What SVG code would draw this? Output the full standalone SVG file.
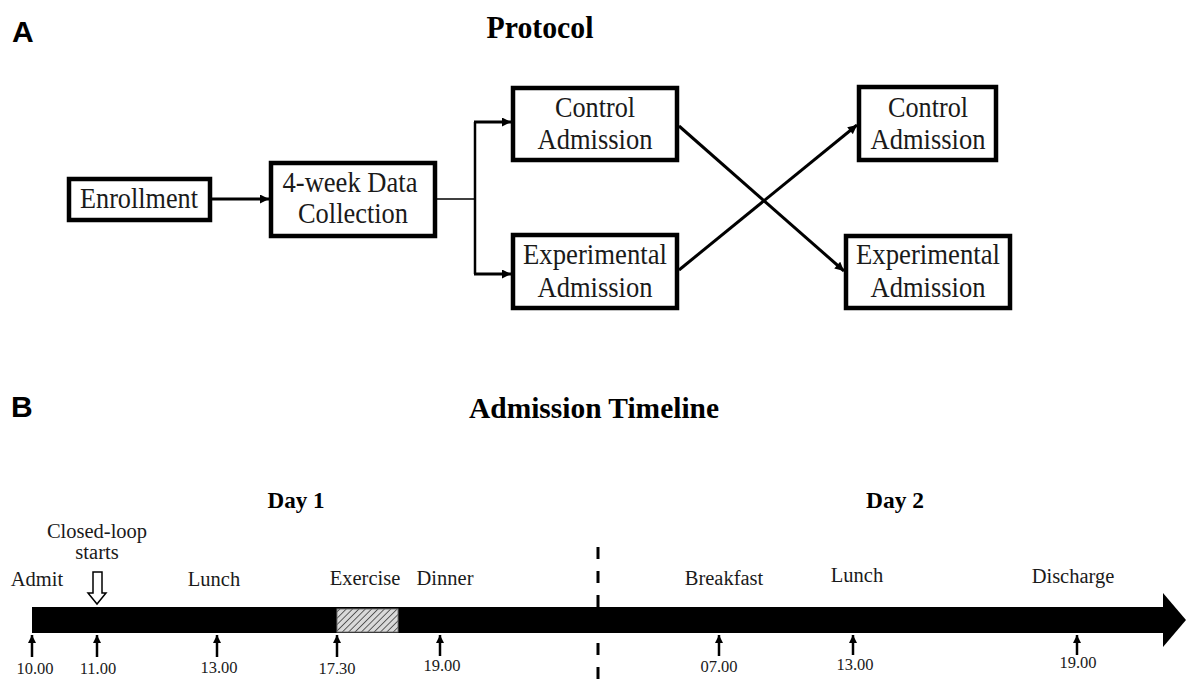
<svg xmlns="http://www.w3.org/2000/svg" width="1186" height="691" viewBox="0 0 1186 691">
<style>
.box{fill:#fff;stroke:#000;stroke-width:4.5}
.bt{font-family:"Liberation Serif","Times New Roman",serif;font-size:28.5px;fill:#1a1a1a;text-anchor:middle}
.lbl{font-family:"Liberation Serif","Times New Roman",serif;font-size:20.5px;fill:#1a1a1a;text-anchor:middle}
.num{font-family:"Liberation Serif","Times New Roman",serif;font-size:16.5px;fill:#1a1a1a;text-anchor:middle}
.title{font-family:"Liberation Serif","Times New Roman",serif;font-weight:bold;fill:#000;text-anchor:middle}
.panel{font-family:"Liberation Sans",Arial,sans-serif;font-weight:bold;font-size:30px;fill:#000}
.conn{fill:none;stroke:#000;stroke-width:3}
.thin{fill:none;stroke:#000;stroke-width:1.6}
.tick{fill:none;stroke:#000;stroke-width:2.5}
</style>
<defs>
<marker id="ah" viewBox="0 0 10 10" refX="10" refY="5" markerWidth="10" markerHeight="9" markerUnits="userSpaceOnUse" orient="auto">
<path d="M0,0 L10,5 L0,10 z" fill="#000"/>
</marker>
<marker id="ahs" viewBox="0 0 10 10" refX="10" refY="5" markerWidth="9" markerHeight="8" markerUnits="userSpaceOnUse" orient="auto">
<path d="M0,0 L10,5 L0,10 z" fill="#000"/>
</marker>
<pattern id="hatch" width="4.5" height="4.5" patternUnits="userSpaceOnUse" patternTransform="rotate(45)">
<rect width="4.5" height="4.5" fill="#d9d9d9"/>
<line x1="0" y1="0" x2="0" y2="4.5" stroke="#333" stroke-width="1.5"/>
</pattern>
</defs>
<rect width="1186" height="691" fill="#fff"/>

<!-- Panel A -->
<text class="panel" x="12" y="42">A</text>
<text class="title" x="540" y="38" font-size="31" textLength="107" lengthAdjust="spacingAndGlyphs">Protocol</text>

<g id="connectors">
<line class="conn" x1="212" y1="199" x2="269" y2="199" marker-end="url(#ah)"/>
<line class="thin" x1="437" y1="199" x2="475" y2="199"/>
<line class="tick" x1="475" y1="122" x2="475" y2="274"/>
<line class="conn" x1="474" y1="122" x2="511" y2="122" marker-end="url(#ah)"/>
<line class="conn" x1="474" y1="274" x2="511" y2="274" marker-end="url(#ah)"/>
<line class="conn" x1="679" y1="126" x2="844" y2="271" marker-end="url(#ah)"/>
<line class="conn" x1="679" y1="270" x2="857" y2="125" marker-end="url(#ah)"/>
</g>

<g id="enrollment">
<rect class="box" x="69" y="179" width="141" height="41"/>
<text class="bt" x="139" y="208" textLength="118" lengthAdjust="spacingAndGlyphs">Enrollment</text>
</g>
<g id="data-collection">
<rect class="box" x="271" y="163" width="164" height="73"/>
<text class="bt" x="350" y="192" textLength="135" lengthAdjust="spacingAndGlyphs">4-week Data</text>
<text class="bt" x="353" y="223" textLength="110" lengthAdjust="spacingAndGlyphs">Collection</text>
</g>
<g id="control-1">
<rect class="box" x="513" y="88" width="164" height="72"/>
<text class="bt" x="595" y="117" textLength="80" lengthAdjust="spacingAndGlyphs">Control</text>
<text class="bt" x="595" y="149" textLength="115" lengthAdjust="spacingAndGlyphs">Admission</text>
</g>
<g id="experimental-1">
<rect class="box" x="513" y="235" width="164" height="73"/>
<text class="bt" x="595" y="264" textLength="144" lengthAdjust="spacingAndGlyphs">Experimental</text>
<text class="bt" x="595" y="297" textLength="115" lengthAdjust="spacingAndGlyphs">Admission</text>
</g>
<g id="control-2">
<rect class="box" x="859" y="87" width="137" height="73"/>
<text class="bt" x="928" y="117" textLength="80" lengthAdjust="spacingAndGlyphs">Control</text>
<text class="bt" x="928" y="149" textLength="115" lengthAdjust="spacingAndGlyphs">Admission</text>
</g>
<g id="experimental-2">
<rect class="box" x="846" y="236" width="164" height="72"/>
<text class="bt" x="928" y="264" textLength="144" lengthAdjust="spacingAndGlyphs">Experimental</text>
<text class="bt" x="928" y="297" textLength="115" lengthAdjust="spacingAndGlyphs">Admission</text>
</g>

<!-- Panel B -->
<text class="panel" x="11" y="417">B</text>
<text class="title" x="594" y="418" font-size="30" textLength="250" lengthAdjust="spacingAndGlyphs">Admission Timeline</text>
<text class="title" x="296" y="508" font-size="24" textLength="57" lengthAdjust="spacingAndGlyphs">Day 1</text>
<text class="title" x="895" y="508" font-size="24" textLength="58" lengthAdjust="spacingAndGlyphs">Day 2</text>

<g id="timeline">
<rect x="32" y="607" width="1134" height="26" fill="#000"/>
<polygon points="1163,593 1186,620 1163,647" fill="#000"/>
<rect x="337" y="609" width="61" height="23" fill="url(#hatch)" stroke="#777" stroke-width="1"/>
<line x1="598" y1="547" x2="598" y2="691" stroke="#000" stroke-width="3" stroke-dasharray="12 12"/>
</g>

<g id="closed-loop-arrow">
<path d="M93,572 H102 V593 H106 L97,604 L88,593 H93 Z" fill="#fff" stroke="#000" stroke-width="1.5"/>
</g>

<g id="ticks">
<line class="tick" x1="32" y1="657" x2="32" y2="635" marker-end="url(#ahs)"/>
<line class="tick" x1="97" y1="657" x2="97" y2="635" marker-end="url(#ahs)"/>
<line class="tick" x1="217" y1="657" x2="217" y2="635" marker-end="url(#ahs)"/>
<line class="tick" x1="337" y1="657" x2="337" y2="635" marker-end="url(#ahs)"/>
<line class="tick" x1="440" y1="656" x2="440" y2="635" marker-end="url(#ahs)"/>
<line class="tick" x1="719" y1="656" x2="719" y2="635" marker-end="url(#ahs)"/>
<line class="tick" x1="853" y1="655" x2="853" y2="635" marker-end="url(#ahs)"/>
<line class="tick" x1="1077" y1="655" x2="1077" y2="635" marker-end="url(#ahs)"/>
</g>

<g id="event-labels">
<text class="lbl" x="37" y="586">Admit</text>
<text class="lbl" x="97" y="538">Closed-loop</text>
<text class="lbl" x="97" y="559">starts</text>
<text class="lbl" x="214" y="586">Lunch</text>
<text class="lbl" x="365" y="585">Exercise</text>
<text class="lbl" x="445" y="585">Dinner</text>
<text class="lbl" x="724" y="585">Breakfast</text>
<text class="lbl" x="857" y="582">Lunch</text>
<text class="lbl" x="1073" y="583">Discharge</text>
</g>

<g id="time-labels">
<text class="num" x="35" y="674">10.00</text>
<text class="num" x="98" y="674">11.00</text>
<text class="num" x="219" y="673">13.00</text>
<text class="num" x="337" y="674">17.30</text>
<text class="num" x="442" y="671">19.00</text>
<text class="num" x="719" y="672">07.00</text>
<text class="num" x="855" y="670">13.00</text>
<text class="num" x="1078" y="668">19.00</text>
</g>
</svg>
